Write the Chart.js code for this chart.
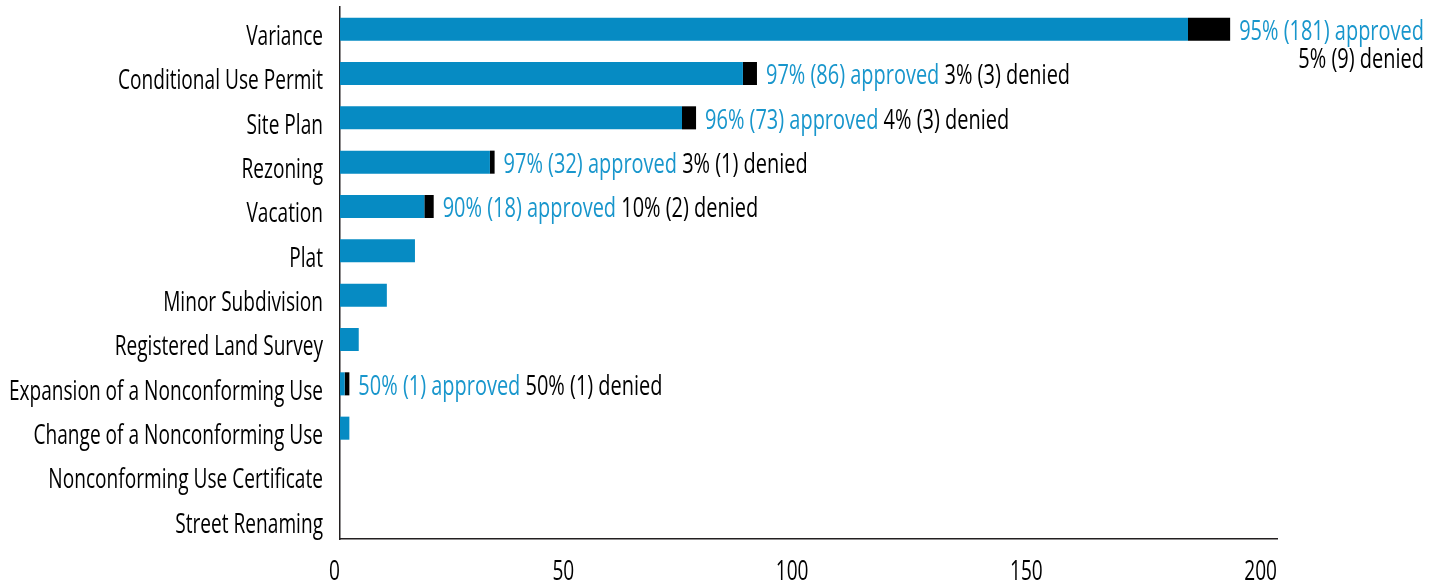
<!DOCTYPE html>
<html><head><meta charset="utf-8">
<script src="https://cdn.jsdelivr.net/npm/chart.js@4/dist/chart.umd.min.js"></script>
<style>html,body{margin:0;padding:0;background:#fff}#wrap{width:1442px;height:584px}</style>
</head><body><div id="wrap"><canvas id="c" width="1442" height="584"></canvas></div>
<script>
const categories = ["Variance","Conditional Use Permit","Site Plan","Rezoning","Vacation","Plat","Minor Subdivision","Registered Land Survey","Expansion of a Nonconforming Use","Change of a Nonconforming Use","Nonconforming Use Certificate","Street Renaming"];
const approved = [181, 86, 73, 32, 18, 16, 10, 4, 1, 2, 0, 0];
const denied = [9, 3, 3, 1, 2, 0, 0, 0, 1, 0, 0, 0];
const xTicks = [0, 50, 100, 150, 200];

const FONT = "'Open Sans','Noto Sans','DejaVu Sans',sans-serif";
const FSIZE = 27;
const FWEIGHT = '500';
const BLUE = '#068bc3', TEXTBLUE = '#1896cc', AXIS = '#231f20';

// condensed look: draw text horizontally compressed (still real canvas text)
const canvas = document.getElementById('c');
const c2d = canvas.getContext('2d');
const oFill = c2d.fillText, oMeasure = c2d.measureText;
c2d.font = FWEIGHT + ' ' + FSIZE + 'px ' + FONT;
const SX = 205 / oMeasure.call(c2d, 'Conditional Use Permit').width;
let curSX = SX;
c2d.fillText = function (t, x, y) {
  this.save();
  this.translate(x, y);
  this.scale(curSX, 1);
  oFill.call(this, t, 0, 0);
  this.restore();
};
c2d.measureText = function (t) {
  const m = oMeasure.call(this, t);
  return {
    width: m.width * curSX,
    actualBoundingBoxAscent: m.actualBoundingBoxAscent,
    actualBoundingBoxDescent: m.actualBoundingBoxDescent,
    actualBoundingBoxLeft: m.actualBoundingBoxLeft * curSX,
    actualBoundingBoxRight: m.actualBoundingBoxRight * curSX,
    fontBoundingBoxAscent: m.fontBoundingBoxAscent,
    fontBoundingBoxDescent: m.fontBoundingBoxDescent
  };
};

const labelPlugin = {
  id: 'rowLabels',
  afterDatasetsDraw(chart) {
    const ctx = chart.ctx;
    const meta1 = chart.getDatasetMeta(1);
    ctx.save();
    curSX = SX * 1.045;
    ctx.font = FWEIGHT + ' ' + FSIZE + 'px ' + FONT;
    ctx.textBaseline = 'middle';
    for (let i = 0; i < categories.length; i++) {
      const a = approved[i], d = denied[i];
      if (!d) continue;
      const tot = a + d;
      const t1 = Math.round(a / tot * 100) + '% (' + a + ') approved';
      const t2 = Math.round(d / tot * 100) + '% (' + d + ') denied';
      const bar = meta1.data[i];
      const x = bar.x + 9, y = bar.y + 3;
      const w1 = ctx.measureText(t1).width;
      const sp = ctx.measureText(' ').width;
      const w2 = ctx.measureText(t2).width;
      ctx.textAlign = 'left';
      ctx.fillStyle = TEXTBLUE;
      ctx.fillText(t1, x, y);
      ctx.fillStyle = '#000';
      if (x + w1 + sp + w2 > chart.width - 10) {
        ctx.textAlign = 'right';
        ctx.fillText(t2, x + w1, y + 28);
      } else {
        ctx.fillText(t2, x + w1 + sp, y);
      }
    }
    curSX = SX;
    ctx.restore();
  }
};

new Chart(canvas, {
  type: 'bar',
  data: {
    labels: categories,
    datasets: [
      { label: 'Approved', data: approved, backgroundColor: BLUE, barPercentage: 0.52, categoryPercentage: 1 },
      { label: 'Denied', data: denied, backgroundColor: '#000', barPercentage: 0.52, categoryPercentage: 1 }
    ]
  },
  options: {
    indexAxis: 'y',
    responsive: false,
    animation: false,
    layout: { padding: { top: 7, right: 165, left: 0, bottom: 0 } },
    plugins: { legend: { display: false }, tooltip: { enabled: false } },
    scales: {
      x: {
        stacked: true, min: 0, max: 200,
        afterBuildTicks: (s) => { s.ticks = xTicks.map(v => ({ value: v })); },
        afterFit: (s) => { s.height = 45; s.paddingLeft = 0; s.paddingRight = 0; },
        grid: { display: false },
        border: { display: true, color: AXIS, width: 1.5 },
        ticks: { color: '#000', font: { family: FONT, size: FSIZE, weight: FWEIGHT }, padding: 9, maxRotation: 0, align: 'end' }
      },
      y: {
        stacked: true,
        afterFit: (s) => { s.width = 340; s.paddingTop = 0; s.paddingBottom = 0; },
        grid: { display: false },
        border: { display: true, color: AXIS, width: 1.5 },
        ticks: { color: '#000', font: { family: FONT, size: FSIZE, weight: FWEIGHT }, padding: 9, labelOffset: 8, autoSkip: false }
      }
    }
  },
  plugins: [labelPlugin]
});
</script></body></html>
